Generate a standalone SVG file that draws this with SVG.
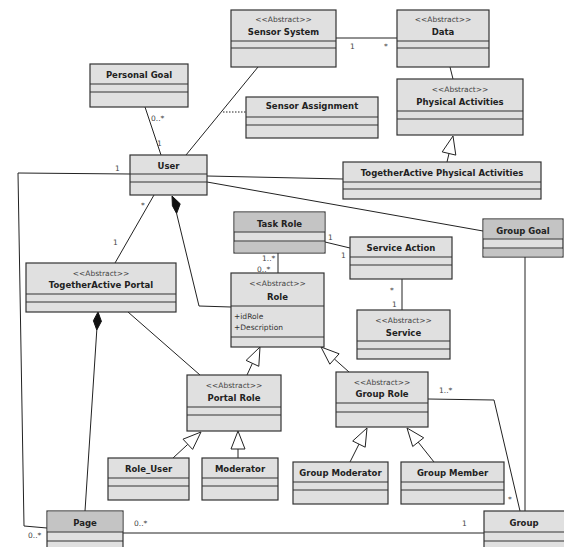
<svg xmlns="http://www.w3.org/2000/svg" width="564" height="547" viewBox="0 0 564 547">
<style>
.box{fill:#e0e0e0;stroke:#333;stroke-width:1.2}
.dk{fill:#c4c4c4;stroke:none}
.sep{stroke:#333;stroke-width:1.2}
.nm{font-family:"DejaVu Sans",Verdana,sans-serif;font-weight:bold;font-size:8.5px;text-anchor:middle;fill:#222}
.st{font-family:"DejaVu Sans",Verdana,sans-serif;font-size:7.5px;text-anchor:middle;fill:#444}
.at{font-family:"DejaVu Sans",Verdana,sans-serif;font-size:7.5px;fill:#333}
.ml{font-family:"DejaVu Sans",Verdana,sans-serif;font-size:7.5px;fill:#444}
.ln{stroke:#222;stroke-width:1;fill:none}
.tri{fill:#fff;stroke:#222;stroke-width:1}
.dia{fill:#111;stroke:#111;stroke-width:1}
</style>
<rect width="564" height="547" fill="#fff"/>
<g id="connectors">
<line class="ln" x1="336" y1="38" x2="397" y2="38"/>
<line class="ln" x1="450" y1="67" x2="453" y2="79"/>
<line class="ln" x1="258" y1="67" x2="186" y2="155"/>
<line class="ln" x1="223" y1="112" x2="246" y2="112" stroke-dasharray="1.5,1.5"/>
<line class="ln" x1="145" y1="107" x2="161" y2="155"/>
<line class="ln" x1="447" y1="162" x2="449" y2="153.5"/>
<polygon class="tri" points="453,136 455.8,155.1 442.2,151.9"/>
<line class="ln" x1="207" y1="176" x2="343" y2="179"/>
<line class="ln" x1="207" y1="182" x2="483" y2="231"/>
<polyline class="ln" points="130,174 18,173 24,526 47,528"/>
<line class="ln" x1="154" y1="195" x2="115" y2="263"/>
<polyline class="ln" points="176.6,213.5 199,306 231,307"/>
<polygon class="dia" points="172,196 180.2,203.8 176.6,213.5 172.4,205.7"/>
<line class="ln" x1="96.8" y1="330" x2="85" y2="511"/>
<polygon class="dia" points="98,312 101.4,321.3 96.8,330 93.4,320.7"/>
<line class="ln" x1="128" y1="312" x2="200" y2="375"/>
<line class="ln" x1="247" y1="375" x2="252.4" y2="363.3"/>
<polygon class="tri" points="260,347 258.8,366.3 246.1,360.4"/>
<line class="ln" x1="349" y1="372" x2="334.4" y2="359"/>
<polygon class="tri" points="321,347 329.8,364.2 339.1,353.8"/>
<line class="ln" x1="173" y1="458" x2="187.8" y2="444.3"/>
<polygon class="tri" points="201,432 192.6,449.4 183,439.2"/>
<line class="ln" x1="238" y1="449" x2="238" y2="458"/>
<polygon class="tri" points="238,431 245,449 231,449"/>
<line class="ln" x1="350" y1="462" x2="359" y2="444.1"/>
<polygon class="tri" points="367,428 365.2,447.2 352.7,441"/>
<line class="ln" x1="434" y1="462" x2="418.2" y2="442.1"/>
<polygon class="tri" points="407,428 412.7,446.5 423.7,437.8"/>
<polyline class="ln" points="428,399 494,400 520,511"/>
<line class="ln" x1="525" y1="257" x2="525" y2="511"/>
<line class="ln" x1="123" y1="533" x2="484" y2="533"/>
<line class="ln" x1="278" y1="253" x2="278" y2="273"/>
<line class="ln" x1="325" y1="242" x2="350" y2="248"/>
<line class="ln" x1="402" y1="279" x2="402" y2="310"/>
<text class="ml" x="350" y="49">1</text>
<text class="ml" x="384" y="49">*</text>
<text class="ml" x="151" y="121">0..*</text>
<text class="ml" x="157" y="146">1</text>
<text class="ml" x="115" y="171">1</text>
<text class="ml" x="141" y="208">*</text>
<text class="ml" x="113" y="245">1</text>
<text class="ml" x="262" y="261">1..*</text>
<text class="ml" x="257" y="272">0..*</text>
<text class="ml" x="328" y="240">1</text>
<text class="ml" x="341" y="258">1</text>
<text class="ml" x="390" y="293">*</text>
<text class="ml" x="392" y="307">1</text>
<text class="ml" x="439" y="393">1..*</text>
<text class="ml" x="508" y="502">*</text>
<text class="ml" x="28" y="538">0..*</text>
<text class="ml" x="134" y="526">0..*</text>
<text class="ml" x="462" y="526">1</text>
</g>
<g id="sensor-system">
<rect class="box" x="231" y="10" width="105" height="57"/>
<line class="sep" x1="231" y1="41" x2="336" y2="41"/><line class="sep" x1="231" y1="48" x2="336" y2="48"/>
<text class="st" x="283.5" y="22">&lt;&lt;Abstract&gt;&gt;</text>
<text class="nm" x="283.5" y="34.5">Sensor System</text>
</g>
<g id="data">
<rect class="box" x="397" y="10" width="92" height="57"/>
<line class="sep" x1="397" y1="41" x2="489" y2="41"/><line class="sep" x1="397" y1="48" x2="489" y2="48"/>
<text class="st" x="443" y="22">&lt;&lt;Abstract&gt;&gt;</text>
<text class="nm" x="443" y="34.5">Data</text>
</g>
<g id="personal-goal">
<rect class="box" x="90" y="64" width="98" height="43"/>
<line class="sep" x1="90" y1="84" x2="188" y2="84"/><line class="sep" x1="90" y1="92" x2="188" y2="92"/>
<text class="nm" x="139" y="77.5">Personal Goal</text>
</g>
<g id="sensor-assignment">
<rect class="box" x="246" y="97" width="132" height="41"/>
<line class="sep" x1="246" y1="117" x2="378" y2="117"/><line class="sep" x1="246" y1="125" x2="378" y2="125"/>
<text class="nm" x="312" y="108.5">Sensor Assignment</text>
</g>
<g id="physical-activities">
<rect class="box" x="397" y="79" width="126" height="56"/>
<line class="sep" x1="397" y1="111" x2="523" y2="111"/><line class="sep" x1="397" y1="119" x2="523" y2="119"/>
<text class="st" x="460" y="92">&lt;&lt;Abstract&gt;&gt;</text>
<text class="nm" x="460" y="104.5">Physical Activities</text>
</g>
<g id="user">
<rect class="box" x="130" y="155" width="77" height="40"/>
<line class="sep" x1="130" y1="174" x2="207" y2="174"/><line class="sep" x1="130" y1="182" x2="207" y2="182"/>
<text class="nm" x="168.5" y="168.5">User</text>
</g>
<g id="togetheractive-physical-activities">
<rect class="box" x="343" y="162" width="198" height="37"/>
<line class="sep" x1="343" y1="182" x2="541" y2="182"/><line class="sep" x1="343" y1="189" x2="541" y2="189"/>
<text class="nm" x="442" y="175.5">TogetherActive Physical Activities</text>
</g>
<g id="group-goal">
<rect class="box" x="483" y="219" width="80" height="38"/>
<rect class="dk" x="483.6" y="219.6" width="78.8" height="19" fill="#c8c8c8"/>
<rect class="dk" x="483.6" y="248.6" width="78.8" height="7.8" fill="#b4b4b4"/>
<line class="sep" x1="483" y1="239" x2="563" y2="239"/><line class="sep" x1="483" y1="248" x2="563" y2="248"/>
<text class="nm" x="523" y="233.5">Group Goal</text>
</g>
<g id="task-role">
<rect class="box" x="234" y="212" width="91" height="41"/>
<rect class="dk" x="234.6" y="212.6" width="89.8" height="19"/>
<rect class="dk" x="234.6" y="241.6" width="89.8" height="10.8"/>
<line class="sep" x1="234" y1="232" x2="325" y2="232"/><line class="sep" x1="234" y1="241" x2="325" y2="241"/>
<text class="nm" x="279.5" y="226.5">Task Role</text>
</g>
<g id="service-action">
<rect class="box" x="350" y="237" width="102" height="42"/>
<line class="sep" x1="350" y1="257" x2="452" y2="257"/><line class="sep" x1="350" y1="265" x2="452" y2="265"/>
<text class="nm" x="401" y="250.5">Service Action</text>
</g>
<g id="role">
<rect class="box" x="231" y="273" width="93" height="74"/>
<line class="sep" x1="231" y1="306" x2="324" y2="306"/><line class="sep" x1="231" y1="337" x2="324" y2="337"/>
<text class="st" x="277.5" y="286">&lt;&lt;Abstract&gt;&gt;</text>
<text class="nm" x="277.5" y="299.5">Role</text>
<text class="at" x="234" y="319">+idRole</text>
<text class="at" x="234" y="330">+Description</text>
</g>
<g id="service">
<rect class="box" x="357" y="310" width="93" height="49"/>
<line class="sep" x1="357" y1="341" x2="450" y2="341"/><line class="sep" x1="357" y1="349" x2="450" y2="349"/>
<text class="st" x="403.5" y="323">&lt;&lt;Abstract&gt;&gt;</text>
<text class="nm" x="403.5" y="335.5">Service</text>
</g>
<g id="togetheractive-portal">
<rect class="box" x="26" y="263" width="150" height="49"/>
<line class="sep" x1="26" y1="294" x2="176" y2="294"/><line class="sep" x1="26" y1="302" x2="176" y2="302"/>
<text class="st" x="101" y="276">&lt;&lt;Abstract&gt;&gt;</text>
<text class="nm" x="101" y="287.5">TogetherActive Portal</text>
</g>
<g id="portal-role">
<rect class="box" x="187" y="375" width="94" height="56"/>
<line class="sep" x1="187" y1="407" x2="281" y2="407"/><line class="sep" x1="187" y1="415" x2="281" y2="415"/>
<text class="st" x="234" y="388">&lt;&lt;Abstract&gt;&gt;</text>
<text class="nm" x="234" y="400.5">Portal Role</text>
</g>
<g id="group-role">
<rect class="box" x="336" y="372" width="92" height="55"/>
<line class="sep" x1="336" y1="403" x2="428" y2="403"/><line class="sep" x1="336" y1="412" x2="428" y2="412"/>
<text class="st" x="382" y="385">&lt;&lt;Abstract&gt;&gt;</text>
<text class="nm" x="382" y="396.5">Group Role</text>
</g>
<g id="role-user">
<rect class="box" x="108" y="458" width="81" height="42"/>
<line class="sep" x1="108" y1="478" x2="189" y2="478"/><line class="sep" x1="108" y1="486" x2="189" y2="486"/>
<text class="nm" x="148.5" y="471.5">Role_User</text>
</g>
<g id="moderator">
<rect class="box" x="202" y="458" width="76" height="42"/>
<line class="sep" x1="202" y1="478" x2="278" y2="478"/><line class="sep" x1="202" y1="486" x2="278" y2="486"/>
<text class="nm" x="240" y="471.5">Moderator</text>
</g>
<g id="group-moderator">
<rect class="box" x="293" y="462" width="95" height="42"/>
<line class="sep" x1="293" y1="482" x2="388" y2="482"/><line class="sep" x1="293" y1="490" x2="388" y2="490"/>
<text class="nm" x="340.5" y="475.5">Group Moderator</text>
</g>
<g id="group-member">
<rect class="box" x="401" y="462" width="103" height="42"/>
<line class="sep" x1="401" y1="482" x2="504" y2="482"/><line class="sep" x1="401" y1="490" x2="504" y2="490"/>
<text class="nm" x="452.5" y="475.5">Group Member</text>
</g>
<g id="page">
<rect class="box" x="47" y="511" width="76" height="50"/>
<rect class="dk" x="47.6" y="511.6" width="74.8" height="20" fill="#bdbdbd"/>
<line class="sep" x1="47" y1="532" x2="123" y2="532"/><line class="sep" x1="47" y1="541" x2="123" y2="541"/>
<text class="nm" x="85" y="525.5">Page</text>
</g>
<g id="group">
<rect class="box" x="484" y="511" width="86" height="50"/>
<line class="sep" x1="484" y1="532" x2="570" y2="532"/><line class="sep" x1="484" y1="541" x2="570" y2="541"/>
<text class="nm" x="524" y="525.5">Group</text>
</g>
</svg>
